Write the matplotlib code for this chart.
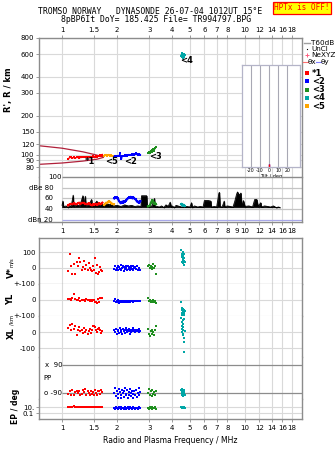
import matplotlib
matplotlib.use('Agg')
import matplotlib.pyplot as plt
from matplotlib.ticker import FixedLocator, NullLocator
from matplotlib.lines import Line2D

# ---------------- data ----------------
freq_ticks = [1, 1.5, 2, 3, 4, 5, 6, 7, 8, 10, 12, 14, 16, 18]
freq_labels = ['1', '1.5', '2', '3', '4', '5', '6', '7', '8', '10', '12', '14', '16', '18']
freq_ticks_mid = [1, 1.5, 2, 3, 4, 5, 6, 7, 8, 9, 10, 12, 14, 16, 18]
freq_labels_mid = ['1', '1.5', '2', '3', '4', '5', '6', '7', '8', '9', '10', '12', '14', '16', '18']
height_ticks = [80, 90, 100, 120, 150, 200, 300, 400, 600, 800]
db_ticks = [20, 40, 60, 80, 100]
db_labels = ['dBn 20', '40', '60', 'dBe 80', '100']
tilt_ticks = [-20, -10, 0, 10, 20]

# E-layer model curves (frequency MHz, height km)
model_f = [0.75, 1.0, 1.3, 1.55, 1.68]
model_upper = [117, 112, 105, 99, 96]
model_lower = [84, 86, 89, 92, 95]

# echo groups
red_f = [1.08, 1.10, 1.12, 1.14, 1.16, 1.18, 1.20, 1.22, 1.24, 1.26, 1.28, 1.30, 1.32, 1.34, 1.36,
         1.38, 1.40, 1.42, 1.44, 1.46, 1.48, 1.50, 1.52, 1.54, 1.56, 1.58, 1.60, 1.62, 1.64, 1.66]
red_h = [92, 95, 95, 94, 95, 94, 95, 95, 94, 95, 95, 96, 95, 96, 95, 96, 96, 95, 96, 96,
         97, 95, 96, 97, 96, 98, 97, 99, 98, 100]
red_amp = [47, 49, 50, 49, 51, 50, 49, 51, 52, 50, 51, 52, 51, 50, 49, 50, 51, 49, 48, 47,
           49, 48, 50, 49, 48, 50, 51, 49, 50, 52]
red_v = [-20, 90, 10, -40, 25, -40, 40, 15, 60, 35, -10, 5, 45, -5, 20, -15, 30, 0, -10, -20,
         10, -15, 65, -30, 20, -40, -25, 5, -10, -20]
red_yl = [5, 8, 0, 10, 37, 5, -3, 0, 12, -5, 2, 3, 0, -5, 8, -2, 0, -5, 3, -8,
          -3, 0, -15, -10, -20, 5, -15, 10, 15, 12]
red_xl = [25, 45, 10, 50, 20, 35, -20, 10, 30, 5, 15, -5, 25, 0, 10, -10, 5, 20, -5, 15,
          35, 40, 30, 15, 0, 20, 25, 10, -5, 5]
red_pp = [-95, -80, -100, -70, -100, -85, -75, -90, -75, -105, -95, -70, -85, -65, -100,
          -80, -90, -100, -75, -95, -85, -105, -70, -90, -100, -80, -80, -95, -70, -85]
red_ep = [10, 8, 12, 9, 15, 10, 7, 11, 9, 13, 10, 8, 12, 10, 9, 11, 14, 8, 10, 12,
          9, 11, 7, 10, 13, 9, 11, 8, 10, 12]

orange_f = [1.70, 1.72, 1.74, 1.76, 1.78, 1.80, 1.82, 1.85, 1.88, 1.92]
orange_h = [97, 99, 100, 98, 99, 100, 98, 99, 98, 97]
orange_amp = [48, 50, 52, 51, 53, 55, 54, 52, 50, 49]

blue_f = [1.93, 1.95, 1.97, 1.99, 2.01, 2.03, 2.05, 2.07, 2.09, 2.11, 2.13, 2.15, 2.17, 2.19, 2.21,
          2.23, 2.25, 2.27, 2.29, 2.31, 2.33, 2.35, 2.37, 2.39, 2.41, 2.43, 2.45, 2.47, 2.50, 2.53,
          2.56, 2.59, 2.62, 2.65, 2.68]
blue_h = [96, 97, 96, 98, 97, 98, 97, 102, 96, 92, 97, 98, 97, 98, 99, 98, 99, 98, 99, 100,
          99, 100, 99, 100, 101, 100, 101, 100, 101, 102, 101, 100, 101, 100, 100]
blue_amp = [60, 62, 61, 62, 60, 58, 55, 53, 51, 52, 54, 52, 55, 53, 54, 56, 57, 59, 60, 61,
            62, 61, 63, 62, 61, 60, 62, 61, 59, 58, 55, 53, 54, 52, 55]
blue_v = [-5, 10, -10, 0, 15, -15, 5, -5, 20, -10, 0, 10, -20, 5, -5, 15, 0, -10, 10, -5,
          5, -15, 0, 15, -5, 10, -10, 0, 5, -5, 10, -10, 0, -5, -10]
blue_yl = [-5, 5, -15, -5, 0, -10, -20, -5, -10, -15, -5, -10, -8, -5, -10, -12, -5, -8, -10, -5,
           -8, -10, -5, -8, -6, -10, -5, -8, -5, -7, -5, -8, -6, -5, -8]
blue_xl = [10, 0, 20, -10, 15, 5, -5, 25, 0, 10, -15, 20, 5, 15, -5, 10, 25, 0, 15, 5,
           20, -10, 10, 0, 15, 5, 25, 10, 0, 15, 5, 10, 20, 0, 5]
blue_pp = [-90, -60, -110, -75, -120, -95, -65, -85, -125, -100, -70, -90, -115, -80, -60,
           -105, -95, -70, -120, -85, -100, -65, -110, -90, -75, -125, -95, -80, -105, -70,
           -115, -90, -60, -100, -85]
blue_ep = [5, 3, 8, 4, 6, 2, 7, 5, 3, 9, 4, 6, 3, 5, 8, 2, 6, 4, 7, 3,
           5, 9, 4, 6, 3, 5, 7, 4, 2, 6, 5, 3, 8, 4, 6]

green_f = [2.95, 3.00, 3.03, 3.06, 3.09, 3.12, 3.15, 3.18, 3.22, 3.26]
green_h = [103, 104, 103, 106, 108, 105, 110, 107, 112, 114]
green_amp = [45, 46, 48, 52, 55, 57, 54, 50, 52, 49]
green_v = [10, 20, 0, 15, -5, 5, 25, 0, 10, -35]
green_yl = [15, -5, 0, -10, -5, -15, 0, -10, -5, -20]
green_xl = [20, -15, -25, 5, -10, 15, 0, -20, 10, 35]
green_pp = [-90, -65, -105, -80, -110, -70, -95, -85, -100, -75]
green_ep = [5, 3, 8, 4, 10, 2, 6, 4, 7, 3]

cyan_f = [4.48, 4.50, 4.52, 4.53, 4.55, 4.56, 4.57, 4.58, 4.59, 4.60, 4.61, 4.62, 4.63, 4.64, 4.66, 4.68]
cyan_h = [585, 600, 570, 595, 610, 580, 590, 560, 600, 575, 590, 565, 585, 600, 575, 590]
cyan_amp = [49, 50, 48, 49, 47, 48, 46, 47, 48, 47, 46, 47, 48, 46, 47, 46]
cyan_v = [110, 90, 70, 80, 40, 60, 100, 55, 30, 75, 50, 65, 20, 45, 85, 35]
cyan_yl = [-12, -50, -65, -80, -95, -60, -75, -90, -55, -70, -85, -100, -62, -78, -88, -68]
cyan_xl = [90, 60, 40, 20, 0, -20, 75, 50, 30, 10, -10, -40, -60, 80, -125, 5]
cyan_pp = [-70, -90, -80, -100, -65, -95, -85, -110, -75, -90, -105, -70, -85, -95, -80, -100]
cyan_ep = [8, 6, 10, 5, 7, 9, 6, 8, 5, 7, 10, 6, 8, 7, 9, 6]

# receiver noise / echo amplitude trace (MHz, dB)
noise_f = [1.00, 1.01, 1.02, 1.05, 1.08, 1.10, 1.12, 1.15, 1.16, 1.20, 1.25, 1.30, 1.31, 1.34, 1.35,
           1.40, 1.45, 1.46, 1.50, 1.55, 1.56, 1.60, 1.65, 1.70, 1.75, 1.80, 1.85, 1.90, 2.00, 2.10,
           2.20, 2.30, 2.40, 2.50, 2.60, 2.70, 2.72, 2.80, 2.90, 2.92, 3.00, 3.10, 3.20, 3.22, 3.30,
           3.40, 3.50, 3.60, 3.70, 3.80, 3.90, 3.95, 4.00, 4.10, 4.20, 4.50, 4.80, 5.00, 5.10, 5.15,
           5.30, 5.50, 5.70, 5.90, 6.00, 6.30, 6.50, 6.55, 6.80, 7.00, 7.20, 7.25, 7.30, 7.50, 7.70,
           7.75, 8.00, 8.30, 8.60, 8.80, 9.00, 9.10, 9.30, 9.50, 9.60, 9.80, 10.0, 10.5, 11.0, 11.3,
           11.6, 11.8, 12.2, 12.3, 12.8, 13.3, 13.8, 14.3, 14.8, 15.3, 15.5]
noise_db = [47, 55, 44, 46, 43, 47, 44, 66, 45, 48, 46, 65, 47, 64, 46,
            48, 58, 47, 49, 55, 47, 48, 50, 47, 52, 48, 50, 46, 47, 45,
            48, 46, 47, 45, 46, 45, 65, 65, 65, 44, 45, 46, 60, 44, 45,
            44, 46, 43, 48, 45, 53, 44, 46, 43, 47, 44, 45, 44, 52, 43,
            46, 44, 45, 44, 56, 56, 55, 44, 45, 44, 70, 71, 45, 44, 55,
            44, 46, 45, 44, 55, 68, 72, 66, 70, 46, 56, 45, 46, 44, 58,
            58, 45, 52, 44, 46, 45, 44, 46, 43, 44, 43]

tilt_x = [0]
tilt_y = [0]

# ---------------- styling ----------------
W, H = 335, 451
XMIN, XMAX = 0.748, 20.5
RED, BLUE, GREEN, CYAN, ORANGE = '#ff0000', '#0000ff', '#1f8f1f', '#00a6a6', '#ffa500'
GRID = '#d9d9d9'
SPINE = '#8c8c8c'
TFS = 5.0
plt.rcParams['font.family'] = ['DejaVu Sans']

fig = plt.figure(figsize=(W / 100, H / 100), dpi=100)


def px_axes(x0, y0, x1, y1):
    return fig.add_axes([x0 / W, 1 - y1 / H, (x1 - x0) / W, (y1 - y0) / H])


def setup_x(ax, ticks=freq_ticks, grid=True):
    ax.set_xscale('log')
    ax.set_xlim(XMIN, XMAX)
    ax.xaxis.set_major_locator(FixedLocator(ticks))
    ax.xaxis.set_minor_locator(NullLocator())
    ax.yaxis.set_minor_locator(NullLocator())
    if grid:
        for f in freq_ticks:
            ax.axvline(f, color=GRID, lw=0.8, zorder=0)
    for s in ax.spines.values():
        s.set_color(SPINE)
        s.set_linewidth(1.0)
    ax.tick_params(axis='both', which='both', labelsize=TFS, length=2, width=0.6,
                   color=SPINE, direction='out', pad=1.5)


sq = dict(marker='s', ms=1.7, mew=0, ls='none')

# ---------------- top: virtual height ----------------
axT = px_axes(39, 38, 302, 177)
setup_x(axT)
axT.set_yscale('log')
axT.set_ylim(67, 800)
axT.yaxis.set_major_locator(FixedLocator(height_ticks))
axT.yaxis.set_minor_locator(NullLocator())
axT.set_yticklabels([str(v) for v in height_ticks])
for h in height_ticks:
    axT.axhline(h, color=GRID, lw=0.8, zorder=0)
axT.tick_params(axis='x', top=True, labeltop=True, bottom=False, labelbottom=False)
axT.set_xticklabels(freq_labels)
axT.spines['bottom'].set_visible(False)

axT.plot(model_f, model_upper, color='#b0203a', lw=0.9, zorder=2)
axT.plot(model_f, model_lower, color='#b0203a', lw=0.9, zorder=2)
for f, h, c in [(red_f, red_h, RED), (orange_f, orange_h, ORANGE), (blue_f, blue_h, BLUE),
                (green_f, green_h, GREEN), (cyan_f, cyan_h, CYAN)]:
    axT.plot(f, h, color=c, lw=1.0, zorder=3)
    axT.plot(f, h, color=c, zorder=3, **sq)
for txt, f, h in [('*1', 1.43, 88), ('<5', 1.86, 88), ('<2', 2.36, 89), ('<3', 3.26, 96), ('<4', 4.78, 540)]:
    axT.text(f, h, txt, fontsize=6, fontweight='bold', ha='center', va='center', zorder=4)
axT.set_ylabel("R', R / km", fontsize=6, fontweight='bold', labelpad=2)
axT.yaxis.set_label_coords(-0.10, 0.63)

# tilt inset
axI = px_axes(242, 65, 300, 167)
axI.set_facecolor('white')
axI.set_xlim(-30, 34)
axI.set_ylim(0, 1)
axI.set_yticks([])
axI.set_xticks(tilt_ticks)
axI.set_xticklabels([str(t) for t in tilt_ticks])
axI.tick_params(axis='x', labelsize=3.4, length=0, pad=0.8)
for t in tilt_ticks:
    axI.axvline(t, color='#a8a8b4', lw=0.8, zorder=0)
for s in axI.spines.values():
    s.set_color('#b4b4c8')
    s.set_linewidth(0.9)
axI.vlines(tilt_y, 0, 0.03, color=BLUE, lw=1.0)
axI.vlines(tilt_x, 0, 0.03, color=RED, lw=1.0)
axI.set_xlabel('Tilt / deg', fontsize=3.6, labelpad=0.3)

# ---------------- dB panel ----------------
axD = px_axes(39, 177, 302, 222)
setup_x(axD, ticks=freq_ticks_mid, grid=False)
for f in freq_ticks:
    axD.axvline(f, color=GRID, lw=0.8, zorder=0)
axD.set_ylim(16, 100)
axD.set_yticks([])
axD.spines['top'].set_visible(False)
axD.hlines([40, 60, 80], 1.0, XMAX, color='#c4c4c4', lw=0.9, zorder=1)
axD.hlines([20], 1.0, XMAX, color='#a8a8e8', lw=0.9, zorder=1)
axD.hlines([100], 1.0, XMAX, color=SPINE, lw=1.0, zorder=1, clip_on=False)
for v, lab in zip(db_ticks, db_labels):
    xr = 0.088 if v == 100 else 0.054
    axD.text(xr, v, lab, transform=axD.get_yaxis_transform(), fontsize=TFS,
             ha='right', va='center')
axD.set_xticklabels(freq_labels_mid)
axD.tick_params(axis='x', pad=2.5)
axD.fill_between(noise_f, 43.5, noise_db, color='black', lw=0.5, zorder=2)
axD.plot(noise_f, noise_db, color='black', lw=0.6, zorder=2)
for f, a, c in [(red_f, red_amp, RED), (orange_f, orange_amp, ORANGE), (blue_f, blue_amp, BLUE),
                (green_f, green_amp, GREEN), (cyan_f, cyan_amp, CYAN)]:
    axD.plot(f, a, color=c, lw=1.6, zorder=3)
    axD.plot(f, a, color=c, zorder=3, **sq)

# ---------------- lower stacked panels ----------------
sections = [(238, 284), (284, 316), (316, 357), (357, 399), (399, 419)]
axes_low = [px_axes(39, y0, 302, y1) for (y0, y1) in sections]
axV, axY, axX, axP, axE = axes_low
for i, ax in enumerate(axes_low):
    setup_x(ax)
    ax.tick_params(axis='x', labelbottom=False, bottom=False)
    if i > 0:
        ax.spines['top'].set_visible(False)
    if i < len(axes_low) - 1:
        ax.spines['bottom'].set_visible(False)
    ax.tick_params(axis='y', length=0, pad=2.5)
axE.tick_params(axis='x', labelbottom=True, bottom=True, pad=2)
axE.set_xticklabels(freq_labels)

axV.set_ylim(-100, 187.5)
axV.set_yticks([100, 0, -100])
axV.set_yticklabels(['100', '0', '+-100'])
axV.axhline(100, color=GRID, lw=0.8, zorder=0)
axV.axhline(0, color=GRID, lw=0.8, zorder=0)
axV.axhline(-100, color='#a8a8a8', lw=0.9, zorder=0, clip_on=False)

axY.set_ylim(-100, 100)
axY.set_yticks([0, -100])
axY.set_yticklabels(['0', '+-100'])
axY.axhline(0, color=GRID, lw=0.8, zorder=0)
axY.axhline(-100, color=GRID, lw=0.8, zorder=0, clip_on=False)

axX.set_ylim(-156, 100)
axX.set_yticks([0, -100])
axX.set_yticklabels(['0', '-100'])
axX.axhline(0, color=GRID, lw=0.8, zorder=0)
axX.axhline(-100, color=GRID, lw=0.8, zorder=0)

axP.set_ylim(-128.6, 141.4)
axP.set_yticks([])
axP.hlines([90, -90], 1.0, XMAX, color='#8c8c8c', lw=0.9, zorder=1)
axP.text(0.088, 90, 'x  90', transform=axP.get_yaxis_transform(), fontsize=TFS, ha='right', va='center')
axP.text(0.088, -90, 'o -90', transform=axP.get_yaxis_transform(), fontsize=TFS, ha='right', va='center')
axP.text(0.015, 5, 'PP', transform=axP.get_yaxis_transform(), fontsize=TFS, ha='left', va='center')

axE.set_yscale('log')
axE.set_ylim(0.001, 4642)
axE.yaxis.set_major_locator(FixedLocator([10, 0.1]))
axE.yaxis.set_minor_locator(NullLocator())
axE.set_yticklabels(['10.', '0.1'])
axE.axhline(10, color=GRID, lw=0.8, zorder=0)
axE.axhline(0.1, color=GRID, lw=0.8, zorder=0)
axE.tick_params(axis='y', length=2, pad=1.5)

groups = [(red_f, red_v, red_yl, red_xl, red_pp, red_ep, RED),
          (blue_f, blue_v, blue_yl, blue_xl, blue_pp, blue_ep, BLUE),
          (green_f, green_v, green_yl, green_xl, green_pp, green_ep, GREEN),
          (cyan_f, cyan_v, cyan_yl, cyan_xl, cyan_pp, cyan_ep, CYAN)]
for f, v, yl, xl, pp, ep, c in groups:
    axV.plot(f, v, color=c, zorder=3, **sq)
    axY.plot(f, yl, color=c, zorder=3, **sq)
    axX.plot(f, xl, color=c, zorder=3, **sq)
    axP.plot(f, pp, color=c, zorder=3, **sq)
    axE.plot(f, ep, color=c, zorder=3, **sq)

axE.set_xlabel('Radio and Plasma Frequency / MHz', fontsize=5.5, labelpad=4)

# left side rotated labels
fig.text(11 / W, 1 - 273 / H, 'V*', fontsize=6, fontweight='bold', rotation=90, ha='center', va='center')
fig.text(11 / W, 1 - 262 / H, 'm/s', fontsize=3.8, rotation=90, ha='center', va='center')
fig.text(11 / W, 1 - 299 / H, 'YL', fontsize=6, fontweight='bold', rotation=90, ha='center', va='center')
fig.text(11 / W, 1 - 333 / H, 'XL', fontsize=6, fontweight='bold', rotation=90, ha='center', va='center')
fig.text(12 / W, 1 - 320 / H, '/km', fontsize=3.8, rotation=90, ha='center', va='center')
fig.text(15 / W, 1 - 406 / H, 'EP / deg', fontsize=5.5, fontweight='bold', rotation=90, ha='center', va='center')

# header
fig.text(150 / W, 1 - 12 / H, 'TROMSO NORWAY   DYNASONDE 26-07-04 1012UT 15°E',
         fontsize=5.9, family='DejaVu Sans Mono', ha='center', va='center')
fig.text(156 / W, 1 - 20 / H, '8pBP6It DoY= 185.425 File= TR994797.BPG',
         fontsize=5.9, family='DejaVu Sans Mono', ha='center', va='center')
fig.text(302 / W, 1 - 8 / H, 'HPTx is OFF!', fontsize=5.5, family='DejaVu Sans Mono', color='red',
         ha='center', va='center',
         bbox=dict(boxstyle='square,pad=0.2', facecolor='#ffff00', edgecolor='red', lw=0.9))

# legend (right margin)
def fig_line(x0, x1, y, **kw):
    fig.add_artist(Line2D([x0 / W, x1 / W], [1 - y / H, 1 - y / H], transform=fig.transFigure, **kw))

LFS = 5.2
fig_line(304, 310, 43, color='#a0a0a0', lw=1.0)
fig.text(311 / W, 1 - 43 / H, 'T60dB', fontsize=LFS, va='center')
fig.add_artist(Line2D([307 / W], [1 - 49 / H], marker='s', ms=0.8, color='black', mew=0, transform=fig.transFigure))
fig.text(311 / W, 1 - 49 / H, 'UnCl', fontsize=LFS, va='center')
fig.add_artist(Line2D([307 / W], [1 - 55 / H], marker='+', ms=3, color='#ff6080', mew=0.7, transform=fig.transFigure))
fig.text(311 / W, 1 - 55 / H, 'NeXYZ', fontsize=LFS, va='center')
fig_line(303, 308, 62, color='#ff7070', lw=0.8)
fig.text(308 / W, 1 - 62 / H, 'θx', fontsize=LFS, va='center')
fig_line(316, 321, 62, color='#8080ff', lw=0.8)
fig.text(321 / W, 1 - 62 / H, 'θy', fontsize=LFS, va='center')
for y, c, lab in [(73, RED, '*1'), (81, BLUE, '<2'), (90, GREEN, '<3'), (98, CYAN, '<4'), (106, ORANGE, '<5')]:
    fig.add_artist(Line2D([307 / W], [1 - y / H], marker='s', ms=2.2, color=c, mew=0, transform=fig.transFigure))
    fig.text(312 / W, 1 - y / H, lab, fontsize=6, fontweight='bold', va='center')

fig.savefig('out.png', dpi=100)
